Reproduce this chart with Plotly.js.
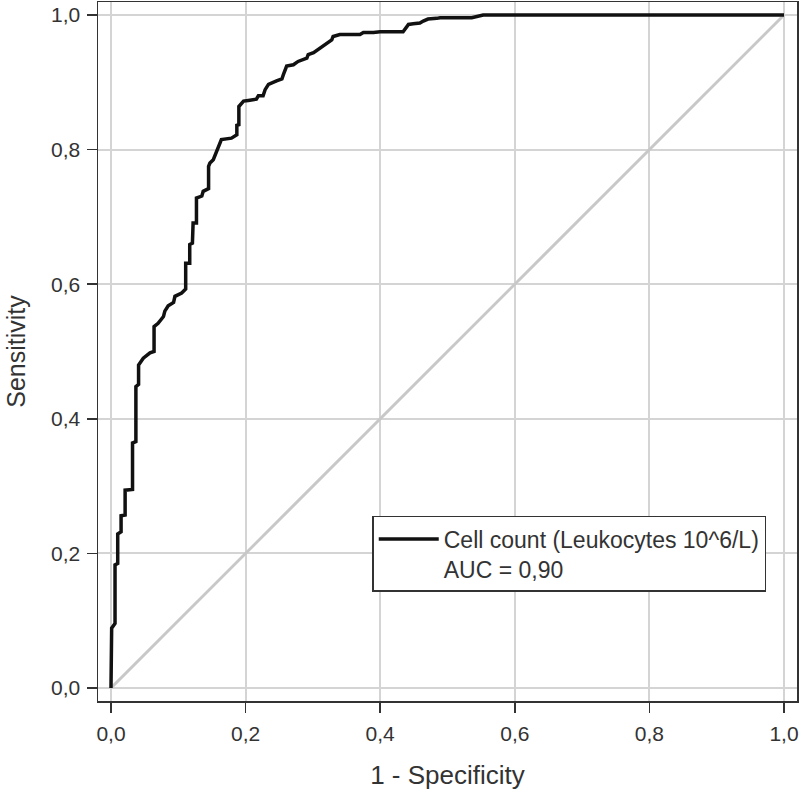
<!DOCTYPE html>
<html>
<head>
<meta charset="utf-8">
<script src="https://cdn.plot.ly/plotly-3.0.1.min.js"></script>
<style>html,body{margin:0;padding:0;background:#fff;}#chart{width:800px;height:800px;}</style>
</head>
<body>
<div id="chart"></div>
<script>
// 1 - Specificity (false positive rate)
var fpr = [0, 0, 0.001, 0.006, 0.006, 0.010, 0.010, 0.015, 0.015, 0.021,
  0.021, 0.032, 0.032, 0.037, 0.037, 0.041, 0.041, 0.048, 0.058, 0.064,
  0.064, 0.070, 0.078, 0.080, 0.085, 0.093, 0.095, 0.105, 0.111, 0.111,
  0.117, 0.117, 0.121, 0.122, 0.127, 0.127, 0.135, 0.137, 0.145, 0.145,
  0.147, 0.152, 0.159, 0.164, 0.179, 0.187, 0.187, 0.190, 0.190, 0.197,
  0.204, 0.216, 0.219, 0.226, 0.229, 0.234, 0.246, 0.254, 0.256, 0.261,
  0.271, 0.278, 0.291, 0.293, 0.301, 0.308, 0.315, 0.321, 0.328, 0.330,
  0.340, 0.370, 0.375, 0.390, 0.400, 0.434, 0.439, 0.442, 0.449, 0.459,
  0.464, 0.471, 0.484, 0.489, 0.536, 0.543, 0.553, 1.0];
// Sensitivity (true positive rate)
var tpr = [0, 0.079, 0.089, 0.096, 0.183, 0.185, 0.229, 0.232, 0.256, 0.257,
  0.294, 0.295, 0.364, 0.366, 0.448, 0.451, 0.480, 0.490, 0.498, 0.500,
  0.537, 0.542, 0.552, 0.560, 0.568, 0.573, 0.582, 0.587, 0.593, 0.631,
  0.631, 0.659, 0.661, 0.691, 0.691, 0.728, 0.731, 0.738, 0.742, 0.775,
  0.780, 0.785, 0.802, 0.815, 0.817, 0.822, 0.836, 0.837, 0.864, 0.872,
  0.873, 0.875, 0.880, 0.880, 0.889, 0.897, 0.902, 0.905, 0.911, 0.924,
  0.926, 0.931, 0.936, 0.941, 0.944, 0.949, 0.954, 0.958, 0.963, 0.968,
  0.971, 0.971, 0.974, 0.974, 0.975, 0.975, 0.981, 0.986, 0.987, 0.988,
  0.991, 0.994, 0.995, 0.996, 0.996, 0.998, 1.0, 1.0];
var refX = [0, 1];
var refY = [0, 1];
var tickVals = [0, 0.2, 0.4, 0.6, 0.8, 1.0];
var seriesName = "Cell count (Leukocytes 10^6/L)<br>AUC = 0,90";
var xTitle = "1 - Specificity";
var yTitle = "Sensitivity";

var font = "Liberation Sans, Arial, sans-serif";
var axisCommon = {
  range: [-0.0193, 1.0193],
  tickvals: tickVals,
  tickformat: ".1f",
  ticks: "outside",
  ticklen: 10,
  tickwidth: 1.5,
  tickcolor: "#333",
  showline: true,
  mirror: true,
  linecolor: "#333",
  linewidth: 1.5,
  showgrid: true,
  gridcolor: "#d4d4d4",
  gridwidth: 2,
  zeroline: false,
  fixedrange: true,
  tickfont: {family: font, size: 21, color: "#333"}
};

var traces = [
  {x: refX, y: refY, mode: "lines", line: {color: "#c8c8c8", width: 3}, showlegend: false, hoverinfo: "skip"},
  {x: fpr, y: tpr, mode: "lines", name: seriesName, line: {color: "#111", width: 3.5}}
];

var layout = {
  width: 800, height: 800,
  margin: {l: 98, r: 3, t: 2, b: 99},
  paper_bgcolor: "#fff", plot_bgcolor: "#fff",
  separators: ",.",
  font: {family: font, color: "#333"},
  xaxis: Object.assign({}, axisCommon, {ticklabelstandoff: 3, title: {text: xTitle, font: {family: font, size: 26, color: "#333"}, standoff: 22}}),
  yaxis: Object.assign({}, axisCommon, {ticklabelstandoff: 2, title: {text: yTitle, font: {family: font, size: 25, color: "#333"}, standoff: 18}}),
  showlegend: true,
  legend: {
    x: 0.956, y: 0.156, xanchor: "right", yanchor: "bottom",
    bgcolor: "#fff", bordercolor: "#333", borderwidth: 1.5,
    font: {family: font, size: 23, color: "#333"},
    valign: "top", itemwidth: 60
  }
};

Plotly.newPlot("chart", traces, layout, {staticPlot: true, displayModeBar: false});
</script>
</body>
</html>
